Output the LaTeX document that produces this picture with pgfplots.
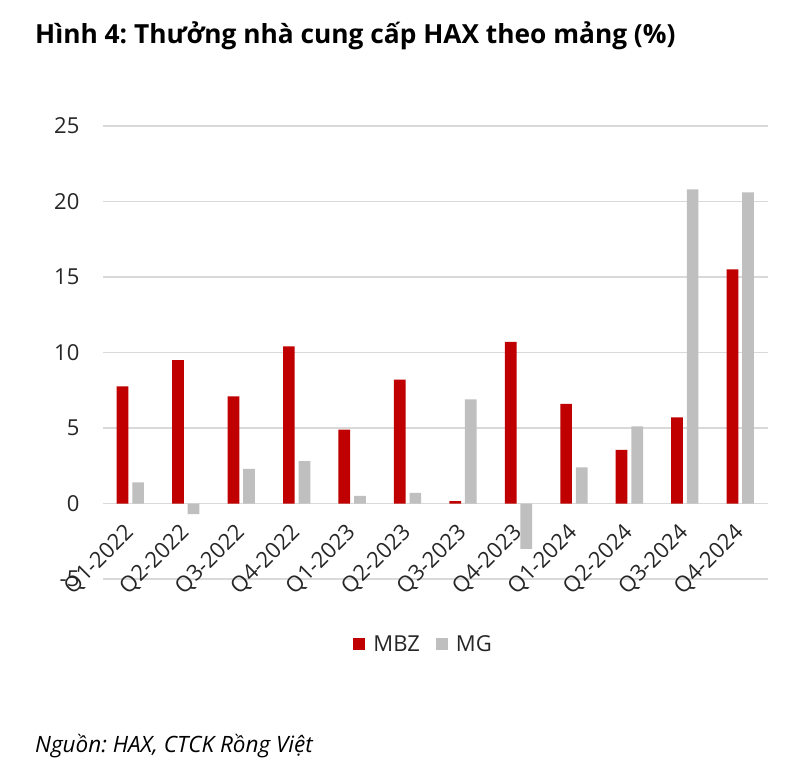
\documentclass[border=0pt]{standalone}
\usepackage{fontspec}
\setmainfont{Open Sans}
\usepackage{pgfplots}
\pgfplotsset{compat=1.18}
\definecolor{mbz}{HTML}{C00000}
\definecolor{mg}{HTML}{BFBFBF}
\definecolor{gridc}{HTML}{D9D9D9}
\definecolor{txt}{HTML}{262626}
\frenchspacing

\begin{document}
\begin{tikzpicture}[x=1pt,y=1pt]
\path[use as bounding box] (0,0) rectangle (796,-778);
\node[anchor=base west, inner sep=0pt, font=\bfseries\fontsize{26.3}{30}\selectfont] at (35,-44)
  {Hình 4: Thưởng nhà cung cấp HAX theo mảng (\%)};
\node[anchor=base west, inner sep=0pt, font=\itshape\fontsize{22.5}{26}\selectfont] at (35,-752)
  {Nguồn: HAX, CTCK Rồng Việt};
\begin{axis}[
  at={(102.6pt,-579pt)}, anchor=south west,
  scale only axis, width=665.4pt, height=453pt,
  ybar=3.9pt, bar width=11.7pt,
  xmin=-0.5, xmax=11.5, ymin=-5, ymax=25,
  ytick={-5,0,5,10,15,20,25},
  xtick={0,...,11},
  xticklabels={Q1-2022,Q2-2022,Q3-2022,Q4-2022,Q1-2023,Q2-2023,Q3-2023,Q4-2023,Q1-2024,Q2-2024,Q3-2024,Q4-2024},
  ymajorgrids, grid style={draw=gridc, line width=1.2pt},
  axis line style={draw=none},
  major tick length=0pt, tick style={draw=none},
  /pgf/number format/assume math mode=true,
  ticklabel style={font=\fontsize{22}{26}\selectfont, text=txt},
  yticklabel style={inner sep=0pt, xshift=-23pt},
  xticklabel style={inner sep=0pt, xshift=0pt, yshift=50pt, rotate=45, anchor=east},
  legend style={at={(0.481,-0.1435)}, anchor=center, draw=none, fill=none,
    legend columns=2, font=\fontsize{22}{26}\selectfont, text=txt,
    nodes={inner sep=0pt},
    /tikz/every even column/.append style={column sep=16pt}},
  legend image code/.code={\fill[#1,draw=none] (0pt,-6pt) rectangle (12pt,6pt); \path (20pt,0pt);},
]
\addplot[fill=mbz, draw=none] coordinates {(0,7.75) (1,9.5) (2,7.1) (3,10.4) (4,4.9) (5,8.2) (6,0.15) (7,10.7) (8,6.6) (9,3.55) (10,5.7) (11,15.5)};
\addplot[fill=mg, draw=none] coordinates {(0,1.4) (1,-0.7) (2,2.3) (3,2.8) (4,0.5) (5,0.7) (6,6.9) (7,-3.0) (8,2.4) (9,5.1) (10,20.8) (11,20.6)};
\legend{MBZ, MG}
\end{axis}
\end{tikzpicture}
\end{document}
